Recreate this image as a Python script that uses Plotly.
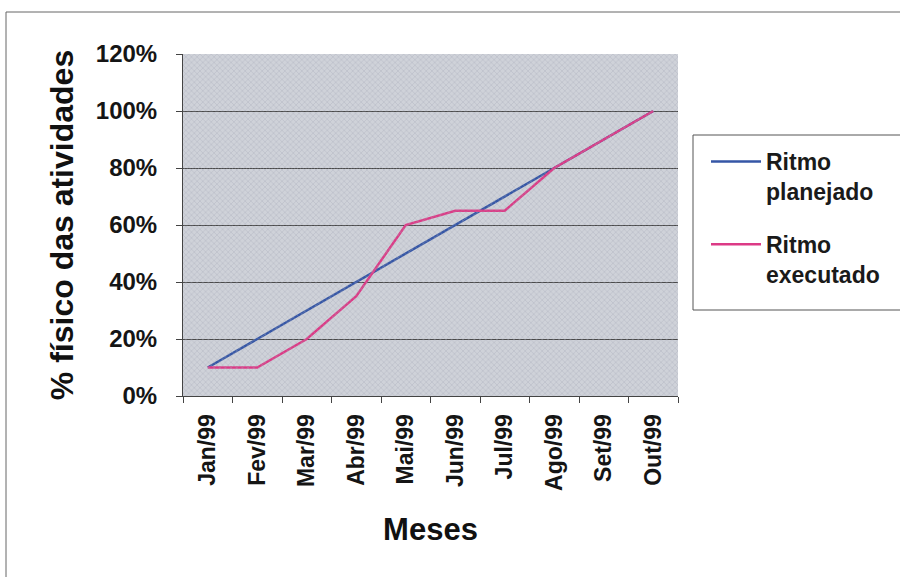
import plotly.graph_objects as go

meses = ["Jan/99", "Fev/99", "Mar/99", "Abr/99", "Mai/99",
         "Jun/99", "Jul/99", "Ago/99", "Set/99", "Out/99"]
ritmo_planejado = [0.10, 0.20, 0.30, 0.40, 0.50, 0.60, 0.70, 0.80, 0.90, 1.00]
ritmo_executado = [0.10, 0.10, 0.20, 0.35, 0.60, 0.65, 0.65, 0.80, 0.90, 1.00]
y_ticks = [0, 0.2, 0.4, 0.6, 0.8, 1.0, 1.2]

W, H = 900, 577
L, R, T, B = 183, 222, 54, 181
pw, ph = W - L - R, H - T - B


def px(x):
    return (x - L) / pw


def py(y):
    return (H - B - y) / ph


font_main = "Liberation Sans, Arial, sans-serif"

fig = go.Figure()

# hatched texture filling the plotting area
fig.add_trace(go.Bar(x=[0.5], y=[1], width=[1], xaxis="x2", yaxis="y2",
                     showlegend=False, hoverinfo="skip",
                     marker=dict(color="rgba(0,0,0,0)", line=dict(width=0),
                                 pattern=dict(shape="x", size=4, solidity=0.25,
                                              fgcolor="#a4a9b6", fgopacity=0.6,
                                              bgcolor="rgba(0,0,0,0)"))))

fig.add_trace(go.Scatter(x=meses, y=ritmo_planejado, mode="lines",
                         name="<b>Ritmo<br>planejado</b>", legendgroup="plan",
                         line=dict(color="#3556a6", width=2.5)))
fig.add_trace(go.Scatter(x=meses, y=ritmo_executado, mode="lines",
                         name="<b>Ritmo<br>executado</b>", legendgroup="exec",
                         line=dict(color="#dc3a86", width=2.5)))

fig.update_layout(
    width=W, height=H,
    margin=dict(l=L, r=R, t=T, b=B),
    paper_bgcolor="white",
    plot_bgcolor="#cfd2d9",
    font=dict(family=font_main, color="#222"),
    showlegend=True,
    legend=dict(
        x=px(706), y=py(140), xanchor="left", yanchor="top",
        bgcolor="rgba(0,0,0,0)", borderwidth=0,
        font=dict(size=23, color="#1a1a1a"),
        traceorder="grouped", tracegroupgap=20, valign="top",
        itemwidth=50,
    ),
    xaxis=dict(
        type="category", range=[-0.5, 9.5],
        tickson="boundaries", ticks="outside", ticklen=6, tickcolor="#444",
        showline=True, linecolor="#444", linewidth=1,
        showgrid=False, tickangle=-90, ticklabelstandoff=8,
        tickfont=dict(size=23, color="#151515", weight="bold"),
        title=dict(text="<b>Meses</b>", standoff=28,
                   font=dict(size=31, color="#111")),
    ),
    yaxis=dict(
        range=[0, 1.2], tickvals=y_ticks, tickformat=".0%",
        ticks="outside", ticklen=6, tickcolor="#444",
        showline=True, linecolor="#444", linewidth=1,
        showgrid=True, gridcolor="#4a4a4a", gridwidth=1,
        zeroline=False, ticklabelstandoff=14,
        tickfont=dict(size=24, color="#151515", weight="bold"),
        title=dict(text="<b>% físico das atividades</b>", standoff=12,
                   font=dict(size=32, color="#111")),
    ),
    xaxis2=dict(overlaying="x", range=[0, 1], visible=False, fixedrange=True),
    yaxis2=dict(overlaying="y", range=[0, 1], visible=False, fixedrange=True),
    bargap=0,
)

# outer frame of the chart object
fig.add_shape(type="rect", xref="paper", yref="paper",
              x0=px(6), x1=px(910), y0=py(590), y1=py(12),
              line=dict(color="#666", width=1), fillcolor="rgba(0,0,0,0)",
              layer="below")

# legend frame
fig.add_shape(type="rect", xref="paper", yref="paper",
              x0=px(693), x1=px(910), y0=py(310), y1=py(135),
              line=dict(color="#555", width=1), fillcolor="white",
              layer="above")

fig.write_html("out.html")
